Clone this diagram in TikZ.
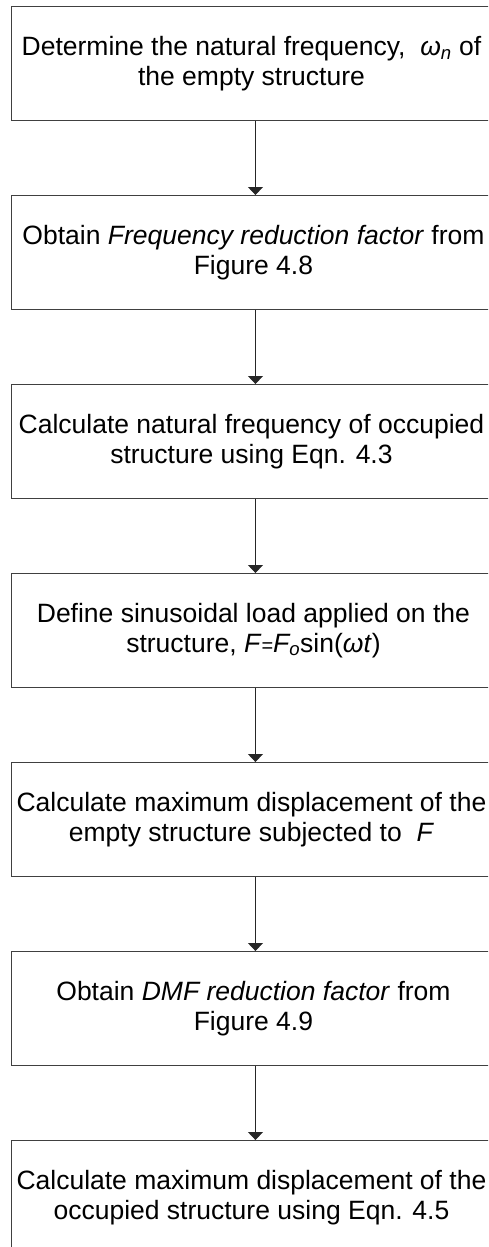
\documentclass[tikz,border=0pt]{standalone}
\usepackage{fontspec}
\setmainfont{Liberation Sans}
\usetikzlibrary{arrows.meta}
\tikzset{
  stepbox/.style={draw=black!75, line width=0.9pt, minimum width=488pt, minimum height=114pt, inner sep=0pt, anchor=north west},
  steptext/.style={align=center, font=\fontsize{26.5pt}{29.5pt}\selectfont, inner sep=0pt},
  flowarrow/.style={draw=black!85, line width=0.9pt, -{Triangle[width=15pt,length=8pt]}}
}
\begin{document}
\begin{tikzpicture}[x=1pt,y=-1pt]
\useasboundingbox (0,0) rectangle (488,1247);
\clip (0,0) rectangle (488,1247);
\node[stepbox] (b1) at (11,6) {};
\node[stepbox] (b2) at (11,195) {};
\node[stepbox] (b3) at (11,384) {};
\node[stepbox] (b4) at (11,573) {};
\node[stepbox] (b5) at (11,762) {};
\node[stepbox] (b6) at (11,951) {};
\node[stepbox] (b7) at (11,1140) {};
\node[steptext] (t1) at ([xshift=-4pt]b1.center) {Determine the natural frequency,~ {\itshape ω\textsubscript{n}} of\\the empty structure};
\node[steptext] (t2) at ([xshift=-2pt]b2.center) {Obtain \textit{Frequency reduction factor} from\\Figure 4.8};
\node[steptext] (t3) at ([xshift=-4pt]b3.center) {Calculate natural frequency of occupied\\structure using Eqn. 4.3};
\node[steptext] (t4) at ([xshift=-2pt]b4.center) {Define sinusoidal load applied on the\\structure, \textit{F}{\fontsize{20pt}{20pt}\selectfont =}\textit{F\textsubscript{o}}sin(\textit{ωt})};
\node[steptext] (t5) at ([xshift=-4pt]b5.center) {Calculate maximum displacement of the\\empty structure subjected to~ \textit{F}};
\node[steptext] (t6) at ([xshift=-2pt]b6.center) {Obtain \textit{DMF reduction factor} from\\Figure 4.9};
\node[steptext] (t7) at ([xshift=-4pt]b7.center) {Calculate maximum displacement of the\\occupied structure using Eqn. 4.5};
\draw[flowarrow] (b1.south) -- (b2.north);
\draw[flowarrow] (b2.south) -- (b3.north);
\draw[flowarrow] (b3.south) -- (b4.north);
\draw[flowarrow] (b4.south) -- (b5.north);
\draw[flowarrow] (b5.south) -- (b6.north);
\draw[flowarrow] (b6.south) -- (b7.north);
\end{tikzpicture}
\end{document}
